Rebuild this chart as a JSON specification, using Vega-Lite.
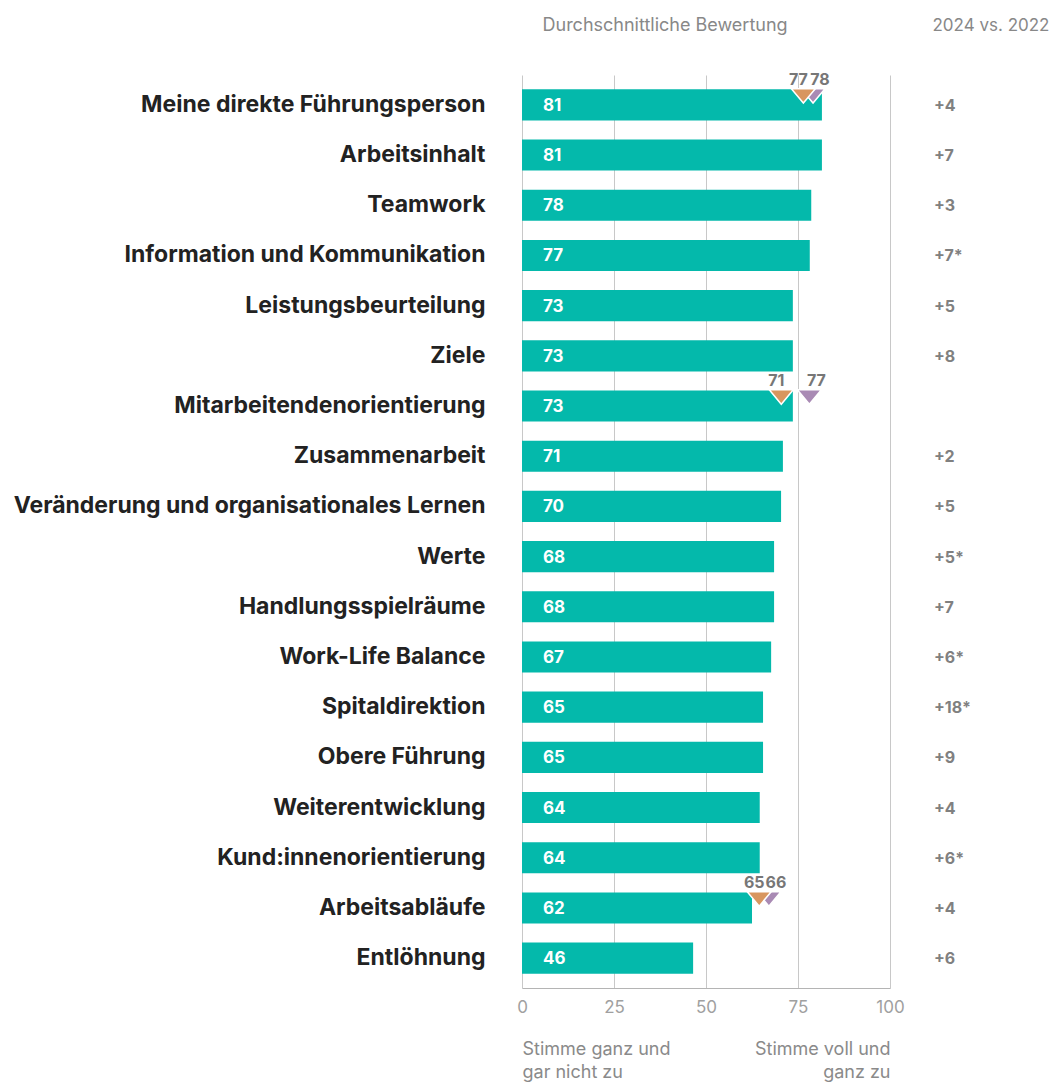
{
  "$schema": "https://vega.github.io/schema/vega-lite/v6.json",
  "width": 368,
  "height": 913,
  "autosize": {"type": "none"},
  "padding": {"left": 522, "top": 75, "right": 161, "bottom": 94},
  "background": "white",
  "config": {
    "view": {"stroke": null},
    "font": "Inter",
    "axis": {"labelFont": "Inter", "titleFont": "Inter"},
    "text": {"font": "Inter"}
  },
  "datasets": {
    "main": [
      {"order": 1, "cat": "Meine direkte Führungsperson", "value": 81.5, "label": "81", "change": "+4"},
      {"order": 2, "cat": "Arbeitsinhalt", "value": 81.5, "label": "81", "change": "+7"},
      {"order": 3, "cat": "Teamwork", "value": 78.6, "label": "78", "change": "+3"},
      {"order": 4, "cat": "Information und Kommunikation", "value": 78.2, "label": "77", "change": "+7*"},
      {"order": 5, "cat": "Leistungsbeurteilung", "value": 73.6, "label": "73", "change": "+5"},
      {"order": 6, "cat": "Ziele", "value": 73.6, "label": "73", "change": "+8"},
      {"order": 7, "cat": "Mitarbeitendenorientierung", "value": 73.6, "label": "73", "change": ""},
      {"order": 8, "cat": "Zusammenarbeit", "value": 70.9, "label": "71", "change": "+2"},
      {"order": 9, "cat": "Veränderung und organisationales Lernen", "value": 70.4, "label": "70", "change": "+5"},
      {"order": 10, "cat": "Werte", "value": 68.5, "label": "68", "change": "+5*"},
      {"order": 11, "cat": "Handlungsspielräume", "value": 68.5, "label": "68", "change": "+7"},
      {"order": 12, "cat": "Work-Life Balance", "value": 67.7, "label": "67", "change": "+6*"},
      {"order": 13, "cat": "Spitaldirektion", "value": 65.5, "label": "65", "change": "+18*"},
      {"order": 14, "cat": "Obere Führung", "value": 65.5, "label": "65", "change": "+9"},
      {"order": 15, "cat": "Weiterentwicklung", "value": 64.6, "label": "64", "change": "+4"},
      {"order": 16, "cat": "Kund:innenorientierung", "value": 64.6, "label": "64", "change": "+6*"},
      {"order": 17, "cat": "Arbeitsabläufe", "value": 62.5, "label": "62", "change": "+4"},
      {"order": 18, "cat": "Entlöhnung", "value": 46.5, "label": "46", "change": "+6"}
    ],
    "markers": [
      {"cat": "Meine direkte Führungsperson", "group": "B", "value": 78},
      {"cat": "Mitarbeitendenorientierung", "group": "B", "value": 77},
      {"cat": "Arbeitsabläufe", "group": "B", "value": 66},
      {"cat": "Meine direkte Führungsperson", "group": "A", "value": 77},
      {"cat": "Mitarbeitendenorientierung", "group": "A", "value": 71},
      {"cat": "Arbeitsabläufe", "group": "A", "value": 65}
    ]
  },
  "resolve": {"axis": {"x": "independent", "y": "independent"}},
  "layer": [
    {
      "data": {"name": "main"},
      "mark": {"type": "bar", "color": "#04B9AB"},
      "encoding": {
        "y": {
          "field": "cat", "type": "nominal",
          "sort": null,
          "scale": {
            "domain": ["Meine direkte Führungsperson", "Arbeitsinhalt", "Teamwork", "Information und Kommunikation", "Leistungsbeurteilung", "Ziele", "Mitarbeitendenorientierung", "Zusammenarbeit", "Veränderung und organisationales Lernen", "Werte", "Handlungsspielräume", "Work-Life Balance", "Spitaldirektion", "Obere Führung", "Weiterentwicklung", "Kund:innenorientierung", "Arbeitsabläufe", "Entlöhnung"],
            "paddingInner": 0.38, "paddingOuter": 0.285
          },
          "axis": {
            "orient": "left", "title": null, "ticks": false, "domain": false, "grid": false,
            "labelPadding": 37, "labelFontSize": 23, "labelFontWeight": "bold",
            "labelColor": "#222222", "labelLimit": 700
          }
        },
        "x": {
          "field": "value", "type": "quantitative",
          "scale": {"domain": [0, 100]},
          "axis": {
            "orient": "bottom", "title": null, "values": [0, 25, 50, 75, 100],
            "grid": true, "gridColor": "#c8c8c8", "gridWidth": 1,
            "domain": true, "domainColor": "#b4b4b4", "domainWidth": 1,
            "ticks": false, "labelPadding": 11, "labelFontSize": 17,
            "labelColor": "#a0a0a0", "labelFlush": false, "labelOverlap": false
          }
        }
      }
    },
    {
      "data": {"name": "main"},
      "mark": {"type": "text", "align": "left", "baseline": "middle", "dx": 21, "dy": 1, "color": "white", "fontWeight": "bold", "fontSize": 17},
      "encoding": {
        "y": {"field": "cat", "type": "nominal", "sort": null, "axis": null},
        "x": {"datum": 0, "type": "quantitative", "axis": null},
        "text": {"field": "label"}
      }
    },
    {
      "data": {"name": "markers"},
      "transform": [{"filter": "datum.group == 'B'"}],
      "mark": {"type": "point", "shape": "M-1,-0.6L1,-0.6L0,0.6Z", "filled": true, "opacity": 1, "size": 576, "stroke": "white", "strokeWidth": 1.5, "yOffset": -9, "xOffset": 4, "color": "#A98AB4"},
      "encoding": {
        "y": {"field": "cat", "type": "nominal", "sort": null, "axis": null},
        "x": {"field": "value", "type": "quantitative", "axis": null}
      }
    },
    {
      "data": {"name": "markers"},
      "transform": [{"filter": "datum.group == 'A'"}],
      "mark": {"type": "point", "shape": "M-1,-0.6L1,-0.6L0,0.6Z", "filled": true, "opacity": 1, "size": 576, "stroke": "white", "strokeWidth": 1.5, "yOffset": -9, "xOffset": -2, "color": "#D8965F"},
      "encoding": {
        "y": {"field": "cat", "type": "nominal", "sort": null, "axis": null},
        "x": {
          "field": "value", "type": "quantitative",
          "axis": {
            "orient": "bottom", "title": null, "values": [0, 100],
            "labelExpr": "datum.value == 0 ? ['Stimme ganz und', 'gar nicht zu'] : ['Stimme voll und', 'ganz zu']",
            "labelAlign": {"condition": {"test": "datum.value == 0", "value": "left"}, "value": "right"},
            "labelPadding": 52, "labelLineHeight": 23, "labelFontSize": 18, "labelColor": "#8a8a8a",
            "labelOverlap": false, "labelBound": false, "labelFlush": false,
            "grid": false, "ticks": false, "domain": false
          }
        }
      }
    },
    {
      "data": {"name": "markers"},
      "transform": [{"filter": "datum.group == 'A'"}],
      "mark": {"type": "text", "align": "center", "baseline": "middle", "dx": -7, "dy": -25, "color": "#777777", "fontWeight": "bold", "fontSize": 16},
      "encoding": {
        "y": {"field": "cat", "type": "nominal", "sort": null, "axis": null},
        "x": {
          "field": "value", "type": "quantitative",
          "axis": {
            "orient": "top", "title": "Durchschnittliche Bewertung", "labels": false, "ticks": false,
            "domain": false, "grid": false, "titleX": 20, "titleY": -50, "titleAlign": "left",
            "titleBaseline": "middle", "titleFontSize": 18, "titleFontWeight": "normal", "titleColor": "#888888"
          }
        },
        "text": {"field": "value"}
      }
    },
    {
      "data": {"name": "markers"},
      "transform": [{"filter": "datum.group == 'B'"}],
      "mark": {"type": "text", "align": "center", "baseline": "middle", "dx": 11, "dy": -25, "color": "#777777", "fontWeight": "bold", "fontSize": 16},
      "encoding": {
        "y": {"field": "cat", "type": "nominal", "sort": null, "axis": null},
        "x": {"field": "value", "type": "quantitative", "axis": null},
        "text": {"field": "value"}
      }
    },
    {
      "data": {"name": "main"},
      "mark": {"type": "text", "align": "left", "baseline": "middle", "dx": 44, "dy": 1, "color": "#808080", "fontWeight": "bold", "fontSize": 16},
      "encoding": {
        "y": {
          "field": "cat", "type": "nominal", "sort": null,
          "axis": {
            "orient": "right", "title": "2024 vs. 2022", "labels": false, "ticks": false, "domain": false, "grid": false,
            "titleAngle": 0, "titleX": 159, "titleY": -50, "titleAlign": "right", "titleBaseline": "middle",
            "titleFontSize": 17, "titleFontWeight": "normal", "titleColor": "#888888"
          }
        },
        "x": {"datum": 100, "type": "quantitative", "axis": null},
        "text": {"field": "change"}
      }
    }
  ]
}
